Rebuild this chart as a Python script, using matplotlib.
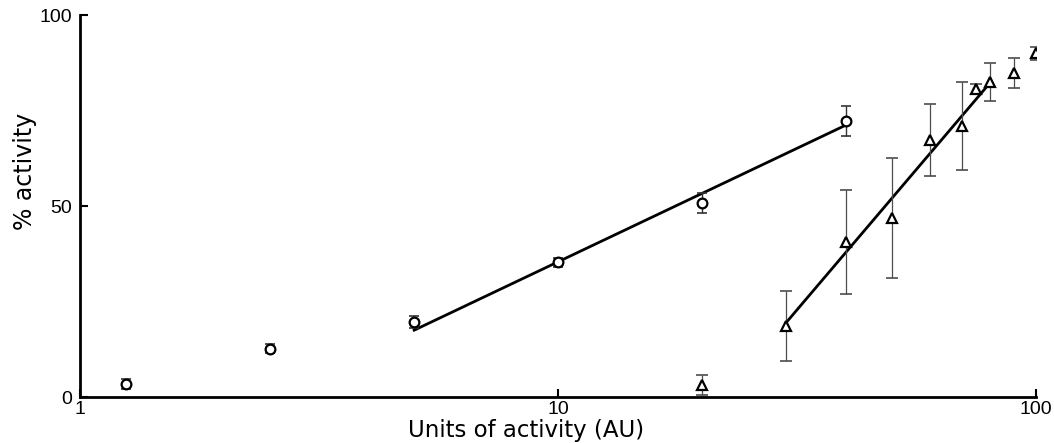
import matplotlib
matplotlib.use("Agg")
import matplotlib.pyplot as plt
from matplotlib.ticker import FixedLocator, NullLocator

plt.rcParams['font.family'] = ['Liberation Sans', 'DejaVu Sans']

# circles: units of activity, % activity, error
circ_x = [1.25, 2.5, 5, 10, 20, 40]
circ_y = [3.4, 12.6, 19.6, 35.3, 50.8, 72.3]
circ_err = [1.2, 1.2, 1.5, 1.2, 2.5, 4.0]

# triangles
tri_x = [20, 30, 40, 50, 60, 70, 75, 80, 90, 100]
tri_y = [3.1, 18.6, 40.6, 46.9, 67.3, 71.0, 80.6, 82.5, 84.8, 90.0]
tri_err = [2.7, 9.2, 13.7, 15.7, 9.5, 11.5, 1.3, 5.0, 4.0, 1.7]

# fitted lines (end points)
circ_fit_x = [5, 40]
circ_fit_y = [17.5, 71.2]
tri_fit_x = [30, 80]
tri_fit_y = [19.5, 82.2]

fig = plt.figure(figsize=(10.54, 4.43), dpi=100)
ax = fig.add_axes([0.0759, 0.1038, 0.9072, 0.8622])

ax.plot(circ_fit_x, circ_fit_y, color='black', lw=2, zorder=2)
ax.plot(tri_fit_x, tri_fit_y, color='black', lw=2, zorder=2)

ax.errorbar(circ_x, circ_y, yerr=circ_err, fmt='none', ecolor='0.2',
            elinewidth=1, capsize=3.5, capthick=1.2, zorder=3)
ax.errorbar(tri_x, tri_y, yerr=tri_err, fmt='none', ecolor='0.3',
            elinewidth=0.9, capsize=4, capthick=1.2, zorder=3)
ax.plot(circ_x, circ_y, 'o', ms=7, mfc='white', mec='black', mew=1.6, zorder=4)
ax.plot(tri_x, tri_y, '^', ms=7.5, mfc='white', mec='black', mew=1.6, zorder=4)

ax.set_xscale('log')
ax.set_xlim(1, 100)
ax.set_ylim(0, 100)
ax.xaxis.set_major_locator(FixedLocator([1, 10, 100]))
ax.xaxis.set_minor_locator(NullLocator())
ax.set_xticklabels(['1', '10', '100'])
ax.set_yticks([0, 50, 100])

for s in ['top', 'right']:
    ax.spines[s].set_visible(False)
for s in ['left', 'bottom']:
    ax.spines[s].set_linewidth(2)

ax.tick_params(direction='in', length=6, width=1.5, labelsize=14)
ax.tick_params(axis='x', pad=3)
ax.tick_params(axis='y', pad=6)

ax.set_xlabel('Units of activity (AU)', fontsize=16.5, family='DejaVu Sans', va='bottom')
ax.set_ylabel('% activity', fontsize=17, family='DejaVu Sans', va='center')
ax.xaxis.set_label_coords(0.467, -0.117)
ax.yaxis.set_label_coords(-0.057, 0.59)

fig.savefig('out.png', dpi=100)
